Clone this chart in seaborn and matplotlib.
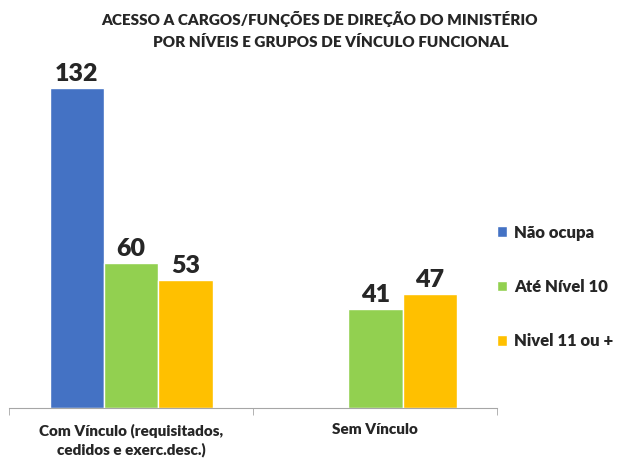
import matplotlib
matplotlib.use("Agg")
import matplotlib.pyplot as plt
import numpy as np
import pandas as pd
import seaborn as sns

# ---------------------------------------------------------
# Data
# ---------------------------------------------------------
groups = ["Com Vínculo (requisitados,\ncedidos e exerc.desc.)", "Sem Vínculo"]
levels = ["Não ocupa", "Até Nível 10", "Nivel 11 ou +"]
nao_ocupa = [132, np.nan]
ate_nivel_10 = [60, 41]
nivel_11 = [53, 47]
colors = ["#4472C4", "#92D050", "#FFC000"]
title = "ACESSO A CARGOS/FUNÇÕES DE DIREÇÃO DO MINISTÉRIO\n      POR NÍVEIS E GRUPOS DE VÍNCULO FUNCIONAL"

df = pd.DataFrame({
    "grupo": groups * 3,
    "nivel": [levels[0]] * 2 + [levels[1]] * 2 + [levels[2]] * 2,
    "valor": nao_ocupa + ate_nivel_10 + nivel_11,
}).dropna()

# ---------------------------------------------------------
# Plot
# ---------------------------------------------------------
sns.set_style("white")
plt.rcParams["font.family"] = ["Lato", "DejaVu Sans"]
plt.rcParams["font.weight"] = "bold"

fig = plt.figure(figsize=(6.27, 4.59), dpi=100)
ax = fig.add_axes([0.0144, 0.111, 0.779, 0.739])

sns.barplot(data=df, x="grupo", y="valor", hue="nivel", order=groups,
            hue_order=levels, palette=colors, width=0.667, saturation=1,
            errorbar=None, ax=ax)

for cont in ax.containers:
    ax.bar_label(cont, fmt="%d", fontsize=18, fontweight="heavy", padding=2)

ax.set_ylim(0, 140)
ax.set_xlim(-0.5, 1.5)
ax.set_xlabel("")
ax.set_ylabel("")
ax.set_yticks([])
ax.set_xticks([0, 1])
ax.set_xticklabels(groups, fontsize=11, fontweight="heavy", linespacing=1.35)
ax.set_xticks([-0.5, 0.5, 1.5], minor=True)
ax.tick_params(axis="x", which="major", length=0, pad=11)
ax.tick_params(axis="x", which="minor", length=5, color="#A6A6A6", bottom=True)
for s in ["top", "right", "left"]:
    ax.spines[s].set_visible(False)
ax.spines["bottom"].set_color("#A6A6A6")

fig.text(0.51, 0.975, title, ha="center", va="top", fontsize=11,
         fontweight="heavy", linespacing=1.65)

leg = ax.legend(loc="center left", bbox_to_anchor=(1.0, 0.357), frameon=False,
                fontsize=12, handlelength=0.6, handleheight=0.6,
                labelspacing=2.3, handletextpad=0.4, borderaxespad=0,
                borderpad=0)
for t in leg.get_texts():
    t.set_fontweight("heavy")

fig.savefig("out.png", dpi=100)
